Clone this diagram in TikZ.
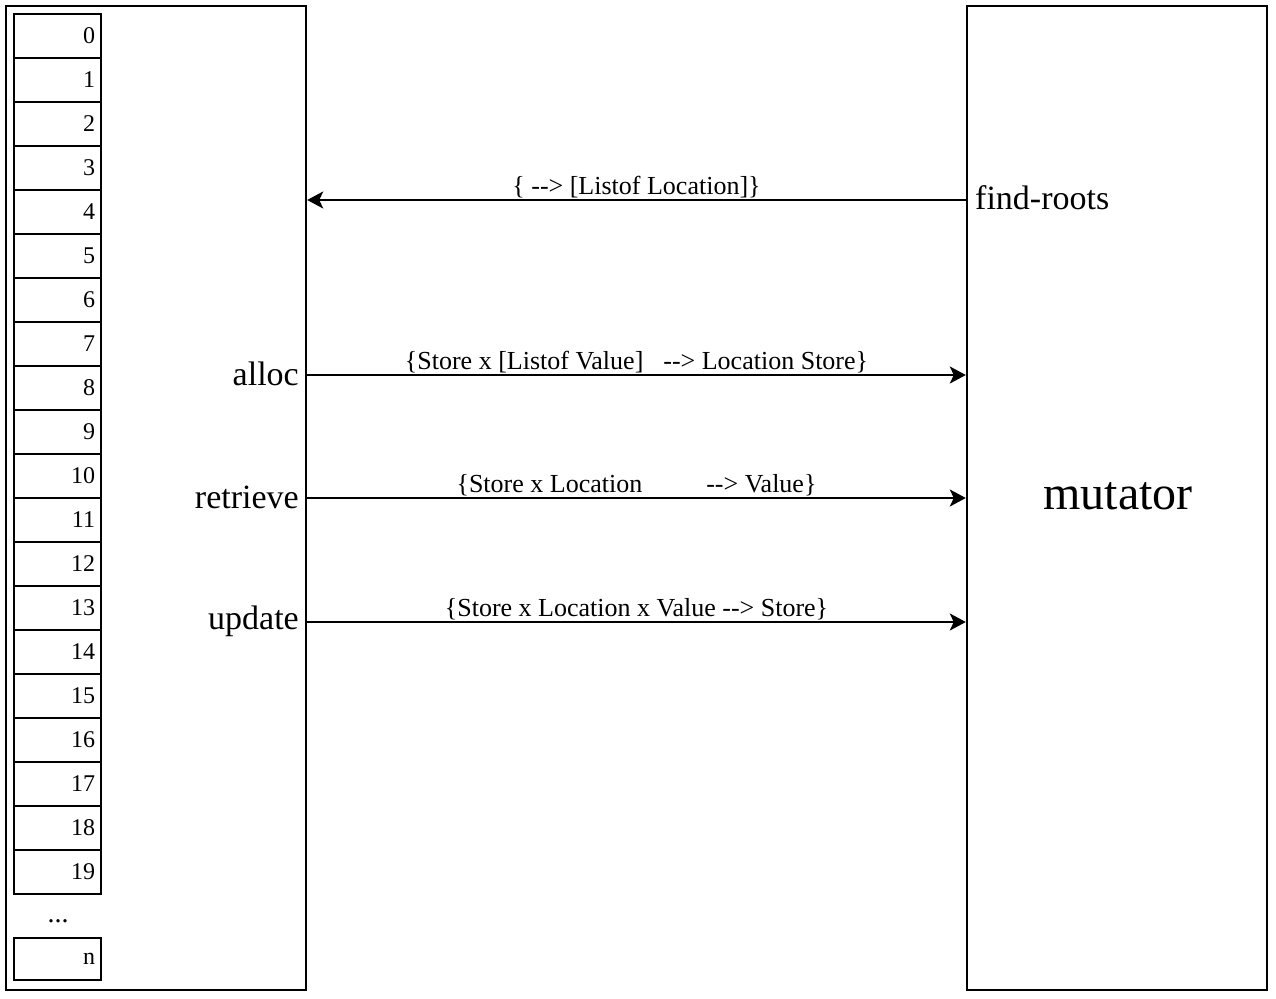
\documentclass[tikz,border=0pt]{standalone}
\usepackage{fontspec}
\setmainfont{Liberation Serif}
\usetikzlibrary{arrows.meta}
\begin{document}
\begin{tikzpicture}[x=1pt,y=-1pt,
  panel/.style={draw, line width=2.4pt, minimum width=300pt, minimum height=984pt, inner sep=0pt},
  cell/.style={draw, line width=2pt, minimum width=87pt, minimum height=44pt, text width=75pt, align=right, inner xsep=6pt, inner ysep=0pt, font=\fontsize{24}{28}\selectfont},
  side/.style={inner sep=0pt, font=\fontsize{34}{38}\selectfont},
  sig/.style={midway, anchor=base, inner sep=0pt, yshift=6pt, font=\fontsize{26}{30}\selectfont},
  arr/.style={line width=2.2pt, -{Stealth[length=16pt,width=17pt,inset=4pt]}}]
\useasboundingbox (0,0) rectangle (1276,998);
\node[panel] (mem) at (156,498) {};
\node[panel] (mut) at (1117,498) {};
\foreach \i in {0,...,19}{
  \node[cell] (c\i) at (57.5,{36+44*\i}) {\i};
}
\node[inner sep=0pt, font=\fontsize{28}{32}\selectfont] (dots) at (58,921) {...};
\node[cell, minimum height=42pt] (cn) at (57.5,959) {n};
\node[side, anchor=west] (fr) at (975,198) {find-roots};
\node[side, anchor=east] (alloc) at (299,374) {alloc};
\node[side, anchor=east] (retr) at (299,497) {retrieve};
\node[side, anchor=east] (upd) at (299,621) {update};
\node[inner sep=0pt, font=\fontsize{48}{52}\selectfont] (mutl) at (1118,496) {mutator};
\draw[arr] (mut.west |- 0,200) -- (mem.east |- 0,200)
  node[sig] {\{ -{}-> [Listof Location]\}};
\draw[arr] (mem.east |- 0,375) -- (mut.west |- 0,375)
  node[sig] {\{Store x [Listof Value]\hspace{20pt}-{}-> Location Store\}};
\draw[arr] (mem.east |- 0,498) -- (mut.west |- 0,498)
  node[sig] {\{Store x Location\hspace{64pt}-{}-> Value\}};
\draw[arr] (mem.east |- 0,622) -- (mut.west |- 0,622)
  node[sig] {\{Store x Location x Value -{}-> Store\}};
\end{tikzpicture}
\end{document}
